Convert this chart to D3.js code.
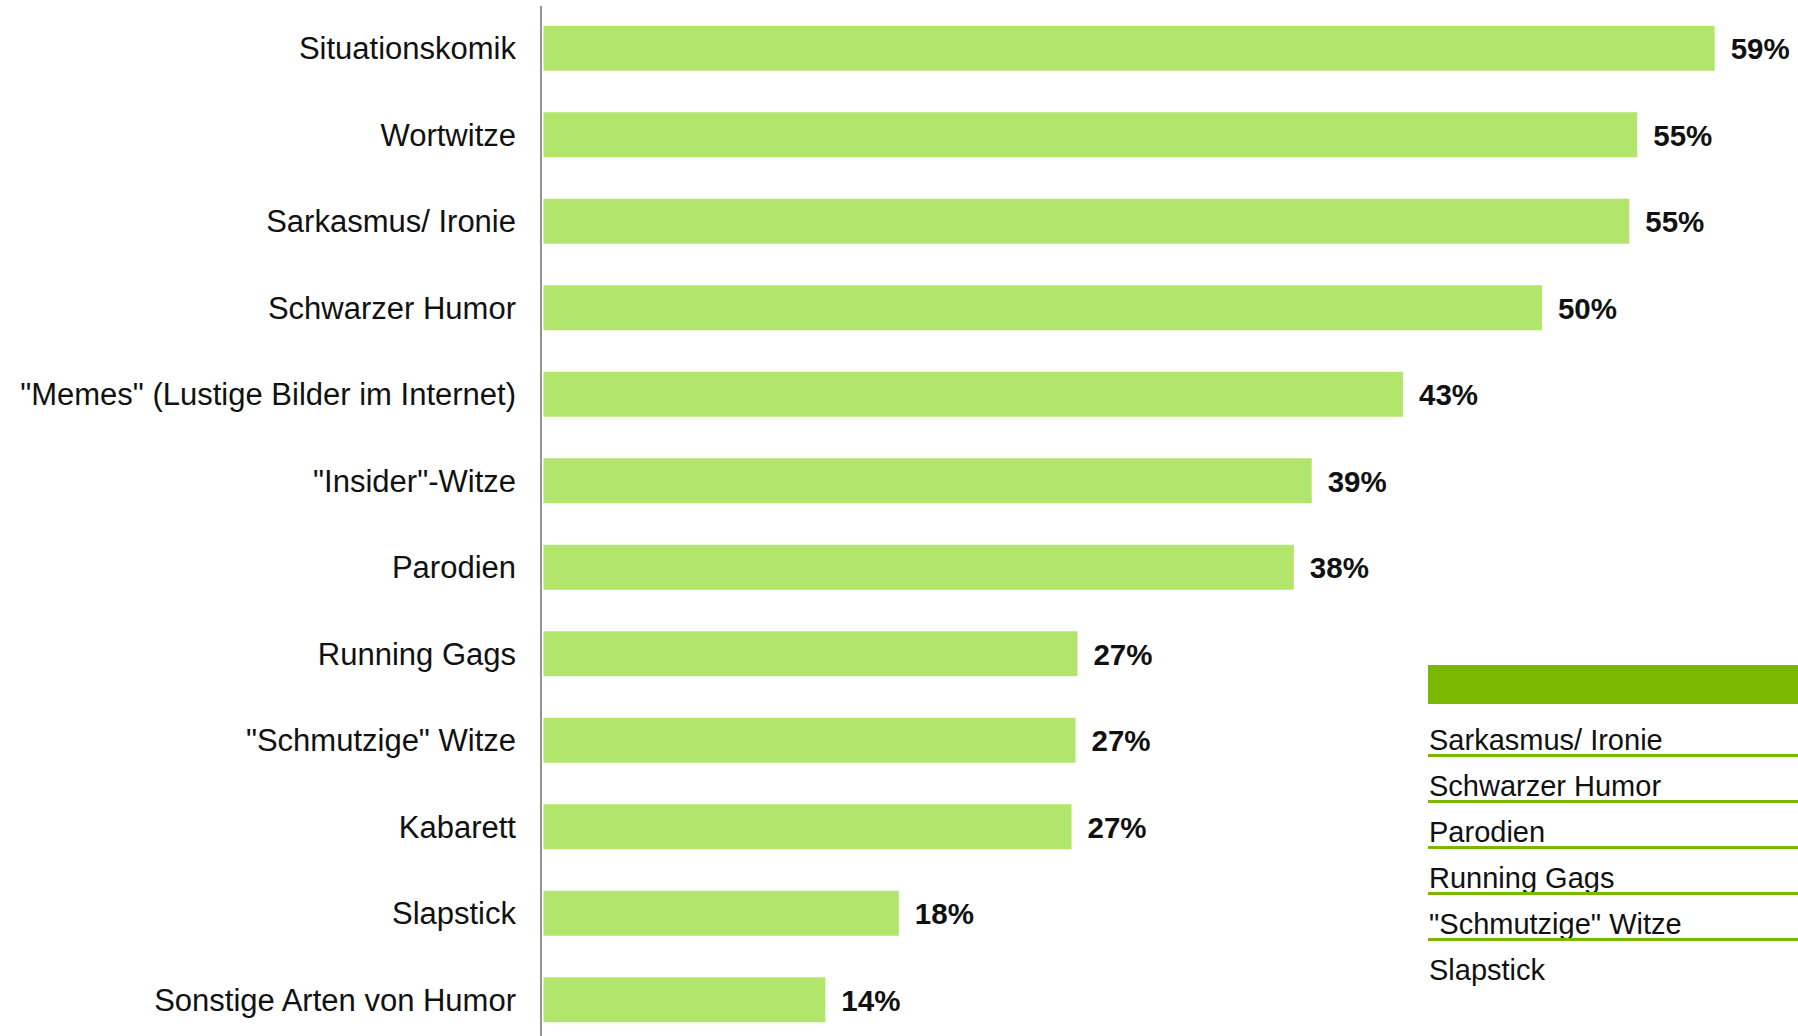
<!DOCTYPE html>
<html>
<head>
<meta charset="utf-8">
<title>Arten von Humor</title>
<style>
  body { margin: 0; background: #fff; }
  svg { display: block; }
  .cat { font-family: "Liberation Sans", Arial, sans-serif; font-size: 31px; fill: #111; text-anchor: end; }
  .val { font-family: "Liberation Sans", Arial, sans-serif; font-size: 29.5px; font-weight: bold; fill: #111; }
  .leg { font-family: "Liberation Sans", Arial, sans-serif; font-size: 29px; fill: #111; }
</style>
</head>
<body>
<svg width="1798" height="1036"></svg>
<script src="https://cdnjs.cloudflare.com/ajax/libs/d3/7.8.5/d3.min.js"></script>
<script>
var categories = ["Situationskomik", "Wortwitze", "Sarkasmus/ Ironie", "Schwarzer Humor",
  "\"Memes\" (Lustige Bilder im Internet)", "\"Insider\"-Witze", "Parodien", "Running Gags",
  "\"Schmutzige\" Witze", "Kabarett", "Slapstick", "Sonstige Arten von Humor"];
var values = [59.0, 55.1, 54.7, 50.3, 43.3, 38.7, 37.8, 26.9, 26.8, 26.6, 17.9, 14.2];
var legendItems = ["Sarkasmus/ Ironie", "Schwarzer Humor", "Parodien", "Running Gags",
  "\"Schmutzige\" Witze", "Slapstick"];

var svg = d3.select("svg"),
    width = +svg.attr("width"),
    height = +svg.attr("height");

var x = d3.scaleLinear()
    .domain([0, 100])
    .range([543.5, 543.5 + 1985]);

var y = d3.scaleBand()
    .domain(categories)
    .range([5, 1043])
    .paddingInner(0.48)
    .paddingOuter(0.24);

var data = categories.map(function(c, i) { return {name: c, value: values[i]}; });

// bars
svg.selectAll(".bar")
  .data(data)
  .enter().append("rect")
    .attr("class", "bar")
    .attr("x", x(0))
    .attr("y", function(d) { return y(d.name); })
    .attr("width", function(d) { return x(d.value) - x(0); })
    .attr("height", y.bandwidth())
    .attr("fill", "#b2e56b");

// value labels
svg.selectAll(".val")
  .data(data)
  .enter().append("text")
    .attr("class", "val")
    .attr("x", function(d) { return x(d.value) + 16; })
    .attr("y", function(d) { return y(d.name) + y.bandwidth() / 2; })
    .attr("dy", "0.38em")
    .text(function(d) { return Math.round(d.value) + "%"; });

// category axis
var axis = svg.append("g")
    .attr("transform", "translate(541,0)")
    .call(d3.axisLeft(y).tickSize(0).tickPadding(25));
axis.select(".domain").remove();
axis.selectAll("text")
    .attr("class", "cat")
    .attr("font-size", null)
    .attr("font-family", null)
    .attr("dy", "0.35em");

svg.append("line")
    .attr("x1", 541).attr("x2", 541)
    .attr("y1", 6).attr("y2", height)
    .attr("stroke", "#6f6f6f")
    .attr("stroke-width", 1.5);

// partially visible legend table at right
var legX = 1428;
svg.append("rect")
    .attr("x", legX).attr("y", 665)
    .attr("width", width - legX).attr("height", 39)
    .attr("fill", "#7ab800");

var legRow = d3.scalePoint()
    .domain(legendItems)
    .range([750, 980]);

var leg = svg.selectAll(".legrow")
  .data(legendItems)
  .enter().append("g")
    .attr("class", "legrow");

leg.append("text")
    .attr("class", "leg")
    .attr("x", legX + 1)
    .attr("y", function(d) { return legRow(d); })
    .text(function(d) { return d; });

leg.filter(function(d, i) { return i < legendItems.length - 1; })
  .append("line")
    .attr("x1", legX).attr("x2", width)
    .attr("y1", function(d) { return legRow(d) + 5.5; })
    .attr("y2", function(d) { return legRow(d) + 5.5; })
    .attr("stroke", "#7ab800")
    .attr("stroke-width", 3);
</script>
</body>
</html>
